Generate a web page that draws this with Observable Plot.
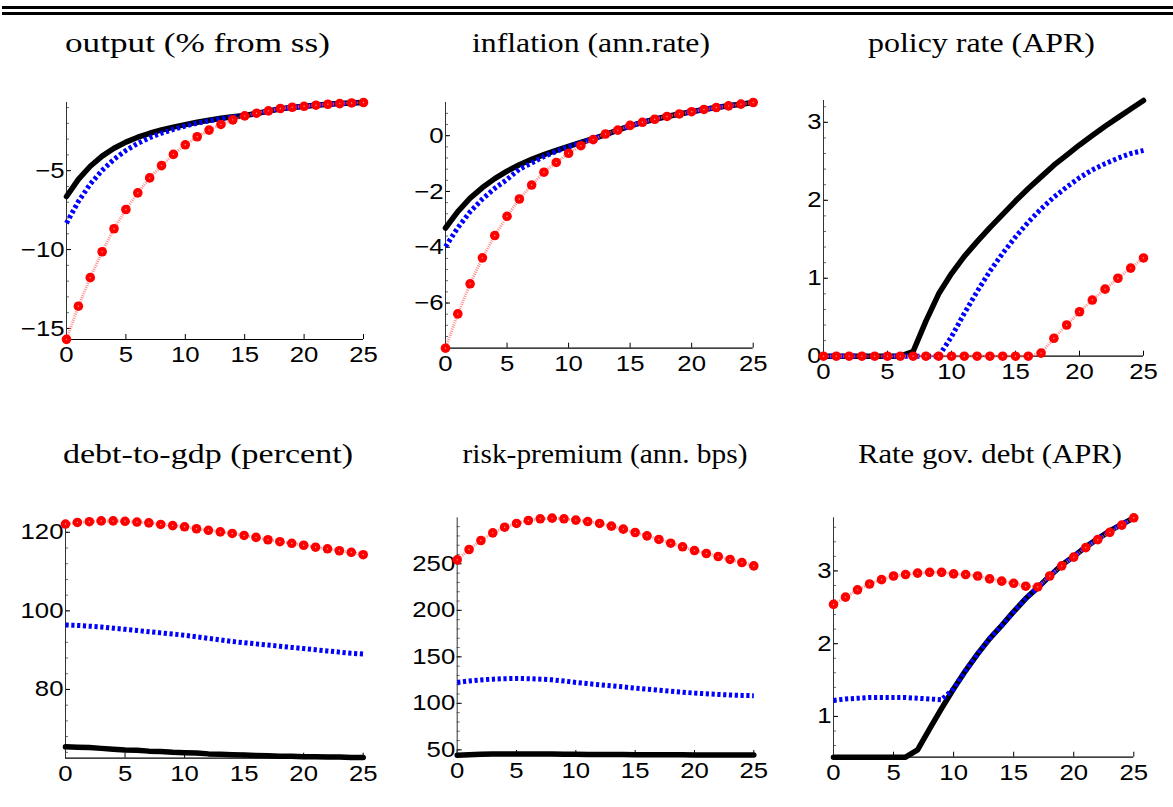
<!DOCTYPE html>
<html><head><meta charset="utf-8">
<script src="https://cdn.jsdelivr.net/npm/d3@7"></script>
<script src="https://cdn.jsdelivr.net/npm/@observablehq/plot@0.6"></script>
<style>
body{margin:0;background:#fff;}
#root{position:relative;width:1173px;height:807px;overflow:hidden;background:#fff;}
.cell{position:absolute;}
.cell svg{background:transparent;overflow:visible;}
.hrule{position:absolute;left:2px;right:0;background:#000;}
#titles{position:absolute;left:0;top:0;}
</style></head><body><div id="root"><div class="hrule" style="top:6px;height:3px"></div><div class="hrule" style="top:12px;height:3px"></div></div>
<script>
// ---------- data ----------
const periods = d3.range(0, 26);
const xTicks = [0, 5, 10, 15, 20, 25];
const titles = ["output (% from ss)", "inflation (ann.rate)", "policy rate (APR)",
                "debt-to-gdp (percent)", "risk-premium (ann. bps)", "Rate gov. debt (APR)"];

// output
const outputSolid = [-6.64,-5.55,-4.72,-4.08,-3.58,-3.19,-2.88,-2.63,-2.42,-2.24,-2.08,-1.93,-1.80,-1.68,-1.58,-1.50,-1.38,-1.23,-1.08,-0.99,-0.92,-0.85,-0.79,-0.75,-0.71,-0.68];
const outputDashed = [-8.33,-6.95,-5.85,-4.98,-4.28,-3.72,-3.27,-2.91,-2.62,-2.38,-2.17,-1.99,-1.84,-1.71,-1.60,-1.50,-1.38,-1.23,-1.08,-0.99,-0.92,-0.85,-0.79,-0.75,-0.71,-0.68];
const outputDots = [-15.69,-13.59,-11.78,-10.14,-8.68,-7.46,-6.41,-5.46,-4.68,-3.97,-3.36,-2.85,-2.43,-2.07,-1.78,-1.53,-1.36,-1.21,-1.06,-0.98,-0.92,-0.85,-0.79,-0.75,-0.71,-0.68];
// inflation
const inflSolid = [-3.31,-2.72,-2.24,-1.86,-1.54,-1.27,-1.04,-0.85,-0.68,-0.53,-0.38,-0.24,-0.11,0.04,0.20,0.35,0.48,0.59,0.69,0.78,0.86,0.94,1.01,1.07,1.13,1.19];
const inflDashed = [-3.98,-3.30,-2.73,-2.27,-1.89,-1.57,-1.20,-0.98,-0.75,-0.56,-0.40,-0.25,-0.11,0.04,0.20,0.35,0.48,0.59,0.69,0.78,0.86,0.94,1.01,1.07,1.13,1.19];
const inflDots = [-7.62,-6.39,-5.31,-4.38,-3.58,-2.89,-2.27,-1.77,-1.31,-0.96,-0.63,-0.36,-0.14,0.06,0.20,0.37,0.48,0.59,0.69,0.78,0.86,0.94,1.01,1.07,1.13,1.19];
// policy rate
const policySolid = [0,0,0,0,0,0,0,0.06,0.45,0.80,1.06,1.28,1.47,1.65,1.82,1.99,2.15,2.30,2.45,2.58,2.71,2.83,2.95,3.06,3.17,3.28];
const policyDashed = [0,0,0,0,0,0,0,0,0,0,0.25,0.55,0.83,1.09,1.32,1.53,1.72,1.89,2.04,2.17,2.29,2.39,2.47,2.54,2.60,2.64];
const policyDots = [0,0,0,0,0,0,0,0,0,0,0,0,0,0,0,0,0,0.04,0.23,0.40,0.57,0.72,0.86,1.00,1.13,1.26];
// debt-to-gdp
const debtSolid = [65.4,65.3,65.2,65.0,64.8,64.6,64.5,64.3,64.2,64.0,63.9,63.8,63.6,63.5,63.4,63.3,63.2,63.1,63.0,63.0,62.9,62.9,62.8,62.8,62.7,62.7];
const debtDashed = [96.4,96.3,96.1,95.9,95.6,95.3,95.0,94.7,94.4,94.1,93.8,93.4,93.0,92.6,92.2,91.9,91.6,91.3,91.0,90.7,90.4,90.1,89.8,89.5,89.2,89.0];
const debtDots = [122.1,122.5,122.7,122.9,122.9,122.8,122.6,122.4,122.0,121.7,121.4,120.9,120.5,120.1,119.7,119.2,118.7,118.1,117.6,117.2,116.7,116.2,115.8,115.3,114.9,114.3];
// risk premium
const riskSolid = [44.2,44.8,45.2,45.4,45.5,45.5,45.5,45.4,45.4,45.3,45.2,45.1,45.0,44.9,44.9,44.8,44.7,44.7,44.6,44.6,44.5,44.5,44.5,44.4,44.4,44.4];
const riskDashed = [122.5,124.0,125.2,126.0,126.5,126.7,126.5,126.0,125.3,124.0,122.5,121.2,120.0,118.8,117.6,116.4,115.3,114.2,113.1,112.0,111.0,110.3,109.6,109.0,108.5,108.2];
const riskDots = [254.3,265.4,275.1,283.3,289.4,293.4,296.6,298.4,299.1,298.4,297.0,295.5,293.4,290.5,287.3,283.7,280.1,276.2,272.2,268.3,264.3,261.1,257.9,254.7,251.4,247.8];
// rate on government debt
const govSolid = [0.44,0.44,0.44,0.44,0.44,0.44,0.44,0.54,0.83,1.11,1.38,1.63,1.86,2.07,2.25,2.44,2.62,2.77,2.93,3.08,3.20,3.33,3.44,3.55,3.64,3.73];
const govDashed = [1.22,1.24,1.25,1.26,1.26,1.26,1.26,1.25,1.24,1.23,1.38,1.63,1.86,2.07,2.25,2.44,2.62,2.77,2.93,3.08,3.20,3.33,3.44,3.55,3.64,3.73];
const govDots = [2.54,2.64,2.74,2.82,2.88,2.93,2.95,2.97,2.98,2.98,2.96,2.95,2.93,2.89,2.86,2.83,2.79,2.78,2.93,3.07,3.19,3.32,3.43,3.53,3.63,3.73];

const yTickSets = [[-15,-10,-5],[-6,-4,-2,0],[0,1,2,3],[80,100,120],[50,100,150,200,250],[1,2,3]];
const yDomains = [[-15.7,-0.68],[-7.62,1.19],[0,3.28],[62.5,123.0],[43.9,299.5],[0.44,3.73]];
const minorSteps = [1,0.4,0.2,4,10,0.2];

// ---------- layout ----------
const cells = [
  {x0:0,x1:390,y0:20,y1:400},{x0:390,x1:780,y0:20,y1:400},{x0:780,x1:1173,y0:20,y1:400},
  {x0:0,x1:390,y0:400,y1:807},{x0:390,x1:780,y0:400,y1:807},{x0:780,x1:1173,y0:400,y1:807}];
const frames = [
  {L:66,R:363,T:102,B:339},{L:445,R:752.7,T:102,B:347.7},{L:823,R:1143,T:100,B:355.7},
  {L:65,R:362.7,T:520,B:757.7},{L:456.7,R:753.3,T:517.3,B:755},{L:833,R:1133.3,T:517.3,B:756.7}];
const titlePos = [
  {cx:197.5,cy:42,len:265},{cx:591,cy:42,len:238},{cx:981.5,cy:42,len:227},
  {cx:208,cy:453,len:290},{cx:605,cy:453,len:285},{cx:990,cy:453,len:264}];

const series = [
  [outputSolid, outputDashed, outputDots],
  [inflSolid, inflDashed, inflDots],
  [policySolid, policyDashed, policyDots],
  [debtSolid, debtDashed, debtDots],
  [riskSolid, riskDashed, riskDots],
  [govSolid, govDashed, govDots]];

const fmt = d => d < 0 ? "\u2212" + Math.abs(d) : String(d);
const tickFont = "Liberation Sans, Arial, Helvetica, sans-serif";
const stretch = 1.17;
const root = document.getElementById("root");

series.forEach(([solid, dashed, dots], k) => {
  const cell = cells[k], f = frames[k], dom = yDomains[k];
  const rows = periods.map((t, i) => ({t, solid: solid[i], dashed: dashed[i], dots: dots[i]}));
  const pw = f.R - f.L, ph = f.B - f.T;
  const step = minorSteps[k];
  const minor = d3.range(Math.ceil(dom[0] / step - 1e-9), Math.floor(dom[1] / step + 1e-9) + 1).map(j => +(j * step).toFixed(6));
  const chart = Plot.plot({
    width: cell.x1 - cell.x0,
    height: cell.y1 - cell.y0,
    marginLeft: f.L - cell.x0,
    marginRight: cell.x1 - f.R,
    marginTop: f.T - cell.y0,
    marginBottom: cell.y1 - f.B,
    style: {background: "transparent", overflow: "visible", fontFamily: tickFont, fontSize: "21px", color: "#000"},
    x: {domain: [0, 25], label: null, axis: null},
    y: {domain: dom, label: null, axis: null},
    marks: [
      Plot.ruleY(minor, {stroke: "#444", strokeWidth: 0.8, insetRight: pw - 3}),
      Plot.ruleY(yTickSets[k], {stroke: "#000", strokeWidth: 1, insetRight: pw - 5}),
      Plot.ruleX(xTicks, {stroke: "#000", strokeWidth: 1, insetTop: ph - 5}),
      Plot.ruleX([0], {stroke: "#333", strokeWidth: 1}),
      Plot.ruleY([dom[0]], {stroke: "#000", strokeWidth: 1.2}),
      Plot.text(xTicks, {x: d => d, frameAnchor: "bottom", lineAnchor: "top", dy: 7, text: fmt,
        fontSize: 22, fontFamily: tickFont, fill: "#000"}),
      Plot.text(yTickSets[k], {y: d => d, frameAnchor: "left", textAnchor: "end", dx: -2, text: fmt,
        fontSize: 22, fontFamily: tickFont, fill: "#000"}),
      Plot.line(rows, {x: "t", y: "solid", stroke: "#000", strokeWidth: 5.5}),
      Plot.line(rows, {x: "t", y: "dashed", stroke: "#0000ff", strokeWidth: 5, strokeDasharray: "3.2,2.6", strokeLinecap: "butt"}),
      Plot.line(rows, {x: "t", y: "dots", stroke: "#ff6a6a", strokeWidth: 3, strokeOpacity: 0.75, strokeDasharray: "1,1.2", strokeLinecap: "butt"}),
      Plot.dot(rows, {x: "t", y: "dots", r: 4.8, fill: "#ff0000", stroke: "none"}),
      Plot.dot(rows, {x: "t", y: "dots", r: 0.7, fill: "#fff", fillOpacity: 0.6, stroke: "none"})
    ]
  });
  const div = document.createElement("div");
  div.className = "cell";
  div.style.left = cell.x0 + "px";
  div.style.top = cell.y0 + "px";
  div.appendChild(chart);
  root.appendChild(div);
  // widen tick labels horizontally, as in the (horizontally stretched) reference figure
  chart.querySelectorAll('g[aria-label="text"] text').forEach(el => {
    const w = el.getComputedTextLength();
    if (w > 0) {
      el.setAttribute("textLength", (w * stretch).toFixed(2));
      el.setAttribute("lengthAdjust", "spacingAndGlyphs");
    }
  });
});

// titles
const tsvg = d3.select(root).append("svg").attr("id", "titles").attr("width", 1173).attr("height", 807)
  .style("position", "absolute").style("left", 0).style("top", 0).style("pointer-events", "none");
titles.forEach((txt, k) => {
  const p = titlePos[k];
  tsvg.append("text").attr("x", p.cx).attr("y", p.cy)
    .attr("text-anchor", "middle").attr("dominant-baseline", "central")
    .attr("font-family", "Liberation Serif, Times New Roman, serif").attr("font-size", 28)
    .attr("textLength", p.len).attr("lengthAdjust", "spacingAndGlyphs")
    .attr("fill", "#000").text(txt);
});
</script></body></html>
